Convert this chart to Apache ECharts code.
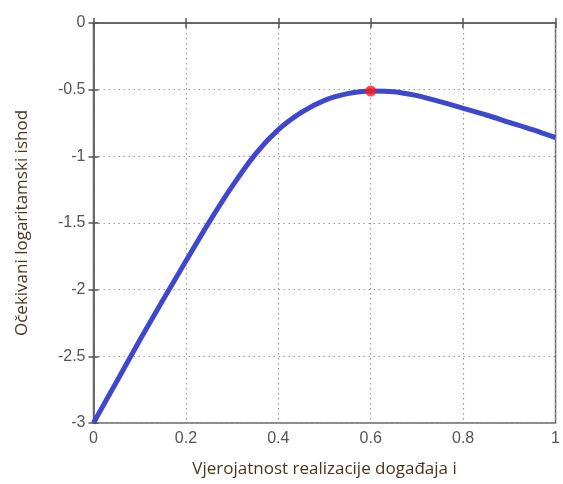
<!DOCTYPE html>
<html>
<head>
<meta charset="utf-8">
<script src="https://cdn.jsdelivr.net/npm/echarts@6/dist/echarts.min.js"></script>
<style>
html,body{margin:0;padding:0;background:#fff;}
#chart{width:563px;height:484px;}
</style>
</head>
<body>
<div id="chart"></div>
<script>
const xValues = [0, 0.05, 0.10, 0.15, 0.20, 0.25, 0.30, 0.35, 0.40, 0.45, 0.50, 0.55, 0.60, 0.65, 0.70, 0.75, 0.80, 0.85, 0.90, 0.95, 1.00];
const yValues = [-3.00, -2.69, -2.38, -2.08, -1.785, -1.495, -1.225, -0.985, -0.80, -0.67, -0.58, -0.53, -0.51, -0.515, -0.545, -0.59, -0.64, -0.69, -0.745, -0.80, -0.86];
const peakPoint = [0.6, -0.51];
const xAxisTitle = 'Vjerojatnost realizacije događaja i';
const yAxisTitle = 'Očekivani logaritamski ishod';

const chart = echarts.init(document.getElementById('chart'), null, {renderer: 'canvas'});
const labelStyle = {color: '#555', fontSize: 16, fontFamily: 'Liberation Sans, Arial, sans-serif'};
const gridLine = {show: true, lineStyle: {color: '#999', type: [1.5, 3.5], width: 1.2}};
const axisLineStyle = {show: true, lineStyle: {color: '#666', width: 1.5}};
const tick = {show: true, inside: true, length: 5, lineStyle: {color: '#555', width: 1.5}};

chart.setOption({
  animation: false,
  backgroundColor: '#fff',
  grid: {left: 93.5, right: 3, top: 23, bottom: 61, show: true, borderColor: '#666', borderWidth: 1.5},
  xAxis: [{
    type: 'value', min: 0, max: 1, interval: 0.2,
    name: xAxisTitle, nameLocation: 'middle', nameGap: 38,
    nameTextStyle: {color: '#4a3522', fontSize: 17, fontFamily: 'Open Sans, sans-serif'},
    axisLabel: Object.assign({margin: 8}, labelStyle),
    axisLine: axisLineStyle, axisTick: tick, splitLine: gridLine
  }, {
    type: 'value', min: 0, max: 1, interval: 0.2, position: 'top',
    axisLabel: {show: false}, axisLine: axisLineStyle, axisTick: tick, splitLine: {show: false}
  }],
  yAxis: [{
    type: 'value', min: -3, max: 0, interval: 0.5,
    name: yAxisTitle, nameLocation: 'middle', nameGap: 63,
    nameTextStyle: {color: '#4a3522', fontSize: 17, fontFamily: 'Open Sans, sans-serif'},
    axisLabel: Object.assign({margin: 8}, labelStyle),
    axisLine: axisLineStyle, axisTick: tick, splitLine: gridLine
  }, {
    type: 'value', min: -3, max: 0, interval: 0.5, position: 'right',
    axisLabel: {show: false}, axisLine: axisLineStyle, axisTick: tick, splitLine: {show: false}
  }],
  series: [{
    type: 'line',
    data: xValues.map((x, i) => [x, yValues[i]]),
    smooth: 0.3,
    showSymbol: false,
    lineStyle: {color: '#3f48cc', width: 5},
    z: 2
  }, {
    type: 'scatter',
    data: [peakPoint],
    symbolSize: 11,
    itemStyle: {color: '#ff1a1a'},
    z: 3
  }]
});
</script>
</body>
</html>
